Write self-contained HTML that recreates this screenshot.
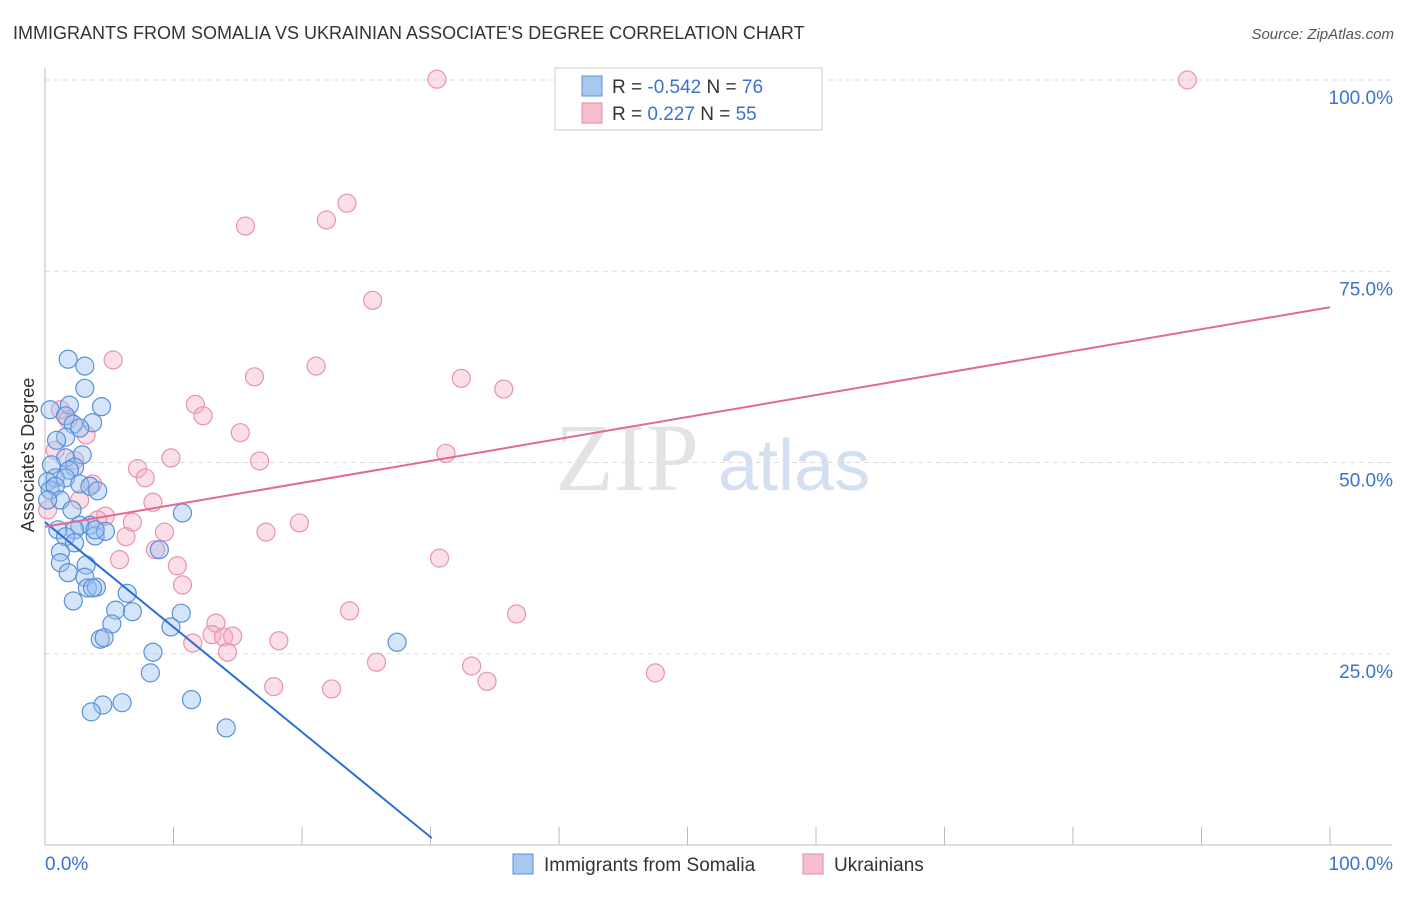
<!DOCTYPE html>
<html><head><meta charset="utf-8"><style>
body{margin:0;background:#fff;font-family:"Liberation Sans",sans-serif}
svg text{font-family:"Liberation Sans",sans-serif}
</style></head><body>
<svg id="chart" width="1406" height="892" viewBox="0 0 1406 892" xmlns="http://www.w3.org/2000/svg">
<text x="13" y="39" font-size="18" fill="#333">IMMIGRANTS FROM SOMALIA VS UKRAINIAN ASSOCIATE'S DEGREE CORRELATION CHART</text>
<text x="1394" y="39" font-size="15" fill="#555" text-anchor="end" font-style="italic">Source: ZipAtlas.com</text>
<text x="555" y="490" font-size="96" fill="#ddd" font-family="Liberation Serif" style="font-family:'Liberation Serif',serif" opacity="0.8">ZIP</text>
<text x="718" y="490" font-size="72" fill="#c9d9f0" opacity="0.8">atlas</text>
<g id="grid"></g>
<g id="axes"></g>
<g id="points"></g>
<g id="lines"></g>
<text transform="translate(34,455) rotate(-90)" font-size="18" fill="#333" text-anchor="middle">Associate's Degree</text>
<g>
<rect x="555" y="68" width="267" height="62" fill="#fff" stroke="#ccc"/>
<rect x="582" y="76" width="20" height="20" fill="#a9c8f0" stroke="#5b8fd8"/>
<rect x="582" y="103" width="20" height="20" fill="#f6bfd0" stroke="#e68aa6"/>
<text x="612" y="93" font-size="19" fill="#333">R = <tspan fill="#3a72d0">-0.542</tspan>   N = <tspan fill="#3a72d0">76</tspan></text>
<text x="612" y="120" font-size="19" fill="#333">R =   <tspan fill="#3a72d0">0.227</tspan>   N = <tspan fill="#3a72d0">55</tspan></text>
</g>
<g>
<rect x="513" y="854" width="20" height="20" fill="#a9c8f0" stroke="#5b8fd8"/>
<text x="544" y="871" font-size="19" fill="#333">Immigrants from Somalia</text>
<rect x="803" y="854" width="20" height="20" fill="#f6bfd0" stroke="#e68aa6"/>
<text x="834" y="871" font-size="19" fill="#333">Ukrainians</text>
</g>
</svg>
<script>
const blueX=[1.8,3.1,3.1,0.4,1.9,4.4,1.6,3.7,2.2,2.7,1.6,0.9,2.9,1.6,2.3,1.9,0.5,0.8,1.6,2.7,3.5,4.1,0.2,0.4,0.8,1.2,0.2,2.1,10.7,3.5,2.7,2.3,1.0,1.6,3.9,4.7,3.9,2.3,1.2,8.9,1.2,1.8,3.2,3.1,3.3,4.0,3.7,6.4,2.2,5.5,6.8,10.6,5.2,9.8,4.3,4.6,27.4,8.4,8.2,11.4,4.5,6.0,3.6,14.1];
const blueY=[63.5,62.6,59.7,56.9,57.5,57.3,56.1,55.2,55.0,54.5,53.3,52.9,51.0,50.6,49.4,49.0,49.7,48.0,48.0,47.2,46.9,46.3,47.5,46.4,46.9,45.1,45.1,43.8,43.4,41.8,41.8,41.2,41.2,40.3,40.4,41.0,41.2,39.5,38.3,38.6,36.9,35.6,36.6,35.0,33.6,33.7,33.6,32.9,31.9,30.7,30.5,30.3,28.9,28.5,26.9,27.1,26.5,25.2,22.5,19.0,18.3,18.6,17.4,15.3];
const pinkX=[30.5,88.9,23.5,21.9,15.6,25.5,5.3,21.1,16.3,32.4,35.7,11.7,12.3,1.2,1.8,15.2,3.2,31.2,9.8,16.7,2.3,7.2,7.8,3.7,2.7,8.4,0.2,4.7,4.1,6.8,19.8,9.3,17.2,6.3,8.6,30.7,5.8,10.3,10.7,23.7,36.7,13.3,13.0,13.9,14.6,18.2,11.5,14.2,25.8,33.2,47.5,34.4,17.8,22.3,0.8];
const pinkY=[100.1,100,83.9,81.7,80.9,71.2,63.4,62.6,61.2,61.0,59.6,57.6,56.1,56.9,55.6,53.9,53.6,51.2,50.6,50.2,50.3,49.2,48.0,47.2,45.1,44.8,43.8,43.0,42.5,42.2,42.1,40.9,40.9,40.3,38.6,37.5,37.3,36.5,34.0,30.6,30.2,29.0,27.5,27.2,27.3,26.7,26.4,25.2,23.9,23.4,22.5,21.4,20.7,20.4,51.6];
const blueLine=[0,42.2,30.1,0.9];
const pinkLine=[0,41.6,100,70.3];
const yTicks=[25,50,75,100];
const yTickLabels=["25.0%","50.0%","75.0%","100.0%"];
const xTicks=[0,10,20,30,40,50,60,70,80,90,100];

const NS="http://www.w3.org/2000/svg";
const X=v=>45+v*12.85, Y=v=>845-v*7.65;
function mk(t,a,p){const e=document.createElementNS(NS,t);for(const k in a)e.setAttribute(k,a[k]);p.appendChild(e);return e;}
const grid=document.getElementById('grid'),axes=document.getElementById('axes'),pts=document.getElementById('points'),lines=document.getElementById('lines');
yTicks.forEach((t,i)=>{
 const l=mk('line',{x1:45,x2:1392,y1:Y(t),y2:Y(t),stroke:'#ddd','stroke-dasharray':'5,4'},grid);
 
 
 const tx=mk('text',{x:1393,y:Y(t)+24,'font-size':19,fill:'#3a72d0','text-anchor':'end'},axes);
 tx.textContent=yTickLabels[i];
 
 
});
const ya=mk('line',{x1:45,x2:45,y1:68,y2:845,stroke:'#bbb'},axes);


const xa=mk('line',{x1:45,x2:1392,y1:845,y2:845,stroke:'#bbb'},axes);


xTicks.forEach(t=>{
 const l=mk('line',{x1:X(t),x2:X(t),y1:827,y2:845,stroke:'#bbb'},axes);
 
 
});
const xl0=mk('text',{x:45,y:870,'font-size':19,fill:'#3a72d0'},axes);xl0.textContent='0.0%';


const xl1=mk('text',{x:1393,y:870,'font-size':19,fill:'#3a72d0','text-anchor':'end'},axes);xl1.textContent='100.0%';


pinkX.forEach((x,i)=>{
 const c=mk('circle',{cx:X(x),cy:Y(pinkY[i]),r:9,fill:'rgba(246,175,198,0.4)',stroke:'#e893ad','stroke-width':1.2},pts);
 
 
});
blueX.forEach((x,i)=>{
 const c=mk('circle',{cx:X(x),cy:Y(blueY[i]),r:9,fill:'rgba(150,190,240,0.4)',stroke:'#5b8fd8','stroke-width':1.2},pts);
 
 
});
const bl=mk('line',{x1:X(blueLine[0]),y1:Y(blueLine[1]),x2:X(blueLine[2]),y2:Y(blueLine[3]),stroke:'#2a6fd8','stroke-width':2},lines);


const pl=mk('line',{x1:X(pinkLine[0]),y1:Y(pinkLine[1]),x2:X(pinkLine[2]),y2:Y(pinkLine[3]),stroke:'#e26a92','stroke-width':2},lines);


</script>
</body></html>
